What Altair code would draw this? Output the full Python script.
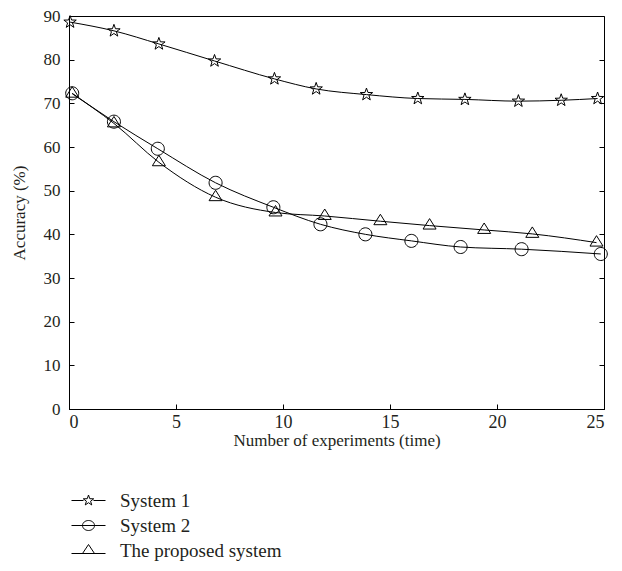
import math
import altair as alt
import pandas as pd

# ---- data ----
series_names = ["System 1", "System 2", "The proposed system"]

s1_x = [0.05, 2.1, 4.2, 6.8, 9.6, 11.55, 13.9, 16.3, 18.5, 21.0, 23.0, 24.7]
s1_y = [88.6, 86.6, 83.6, 79.7, 75.6, 73.3, 72.0, 71.1, 70.9, 70.5, 70.7, 71.1]

s2_x = [0.15, 2.1, 4.15, 6.85, 9.55, 11.75, 13.85, 16.0, 18.3, 21.15, 24.85]
s2_y = [72.3, 65.8, 59.6, 51.8, 46.2, 42.3, 40.0, 38.5, 37.1, 36.6, 35.5]

s3_x = [0.15, 2.1, 4.2, 6.85, 9.65, 11.95, 14.55, 16.85, 19.4, 21.65, 24.65]
s3_y = [72.2, 65.4, 56.5, 48.5, 45.0, 44.2, 43.0, 42.0, 41.0, 40.1, 38.1]

x_ticks = [0, 5, 10, 15, 20, 25]
y_ticks = [0, 10, 20, 30, 40, 50, 60, 70, 80, 90]

rows = []
for name, xs, ys in zip(series_names, [s1_x, s2_x, s3_x], [s1_y, s2_y, s3_y]):
    for i, (xv, yv) in enumerate(zip(xs, ys)):
        rows.append({"series": name, "x": xv, "y": yv, "i": i})
df = pd.DataFrame(rows)

# ---- marker shapes (SVG paths in unit box) ----
def star_path(scale=1.0, inner=0.4):
    pts = []
    for k in range(10):
        ang = math.radians(-90 + 36 * k)
        r = scale if k % 2 == 0 else scale * inner
        pts.append((r * math.cos(ang), r * math.sin(ang)))
    return "M" + "L".join(f"{px:.3f},{py:.3f}" for px, py in pts) + "Z"

def circle_path(r=1.0, ry=None):
    ry = r if ry is None else ry
    return (f"M{r},0A{r},{ry} 0 1,1 {-r},0A{r},{ry} 0 1,1 {r},0Z")

def tri_path(w=1.0, h=1.6, base=0.53):
    return f"M0,{base - h:.3f}L{w},{base}L{-w},{base}Z"

marker_shapes = [star_path(1.0), circle_path(1.0), tri_path(1.0, 1.6, 0.53)]
legend_shapes = [
    "M-1.7,0H-0.5M0.5,0H1.7" + star_path(0.55),
    "M-1.7,0H1.7" + circle_path(0.6, 0.5),
    "M-1.7,0.3H1.7" + tri_path(0.6, 0.9, 0.3),
]

FONT = "Liberation Serif"
TXT = "#231f20"

x_enc = alt.X("x:Q", scale=alt.Scale(domain=[0, 25], nice=False),
              axis=alt.Axis(values=x_ticks, title="Number of experiments (time)",
                            tickSize={"expr": "-5"}, labelPadding=9, titlePadding=1,
                            grid=False, labelFontSize=18, titleFontSize=17))

lines = alt.Chart(df).mark_line(interpolate="monotone", color="black", strokeWidth=1).encode(
    x=x_enc,
    y=alt.Y("y:Q", scale=alt.Scale(domain=[0, 90], nice=False),
            axis=alt.Axis(values=y_ticks, title="Accuracy (%)", tickSize={"expr": "-5"},
                          labelPadding=14, titlePadding=15, grid=False,
                          labelFontSize=17, titleFontSize=17)),
    detail="series:N",
)

points = alt.Chart(df).mark_point(filled=False, color="black", strokeWidth=1, size=170, opacity=1).encode(
    x=alt.X("x:Q"),
    y=alt.Y("y:Q", scale=alt.Scale(domain=[0, 90], nice=False),
            axis=alt.Axis(values=y_ticks, orient="right", labels=False, title=None,
                          tickSize={"expr": "-5"}, domain=False, grid=False)),
    shape=alt.Shape("series:N", scale=alt.Scale(domain=series_names, range=marker_shapes),
                    legend=None),
)

legend_layer = alt.Chart(df).transform_filter("false").mark_point(
    filled=False, color="black", strokeWidth=1, opacity=1
).encode(
    shape=alt.Shape("series:N", scale=alt.Scale(domain=series_names, range=legend_shapes),
                    legend=alt.Legend(title=None, orient="none", legendX=9, legendY=474,
                                      direction="vertical", symbolSize=400,
                                      labelFont=FONT, labelFontSize=19, labelColor=TXT,
                                      labelOffset=21, rowPadding=4, padding=0, labelLimit=400,
                                      symbolStrokeColor="black", symbolStrokeWidth=1,
                                      symbolFillColor="transparent")),
)

chart = alt.layer(lines, points, legend_layer).resolve_scale(
    shape="independent"
).resolve_axis(y="independent").properties(
    width=535, height=393, background="white",
    autosize=alt.AutoSizeParams(type="none"),
    padding={"left": 61, "top": 8, "right": 10, "bottom": 154},
).configure_view(stroke="black", strokeWidth=1).configure_axis(
    labelFont=FONT, titleFont=FONT, labelColor=TXT, titleColor=TXT,
    domainColor="black", tickColor="black", titleFontWeight="normal",
).configure_legend(labelFont=FONT)

chart.save("out.html", embed_options={"renderer": "svg", "actions": False})
